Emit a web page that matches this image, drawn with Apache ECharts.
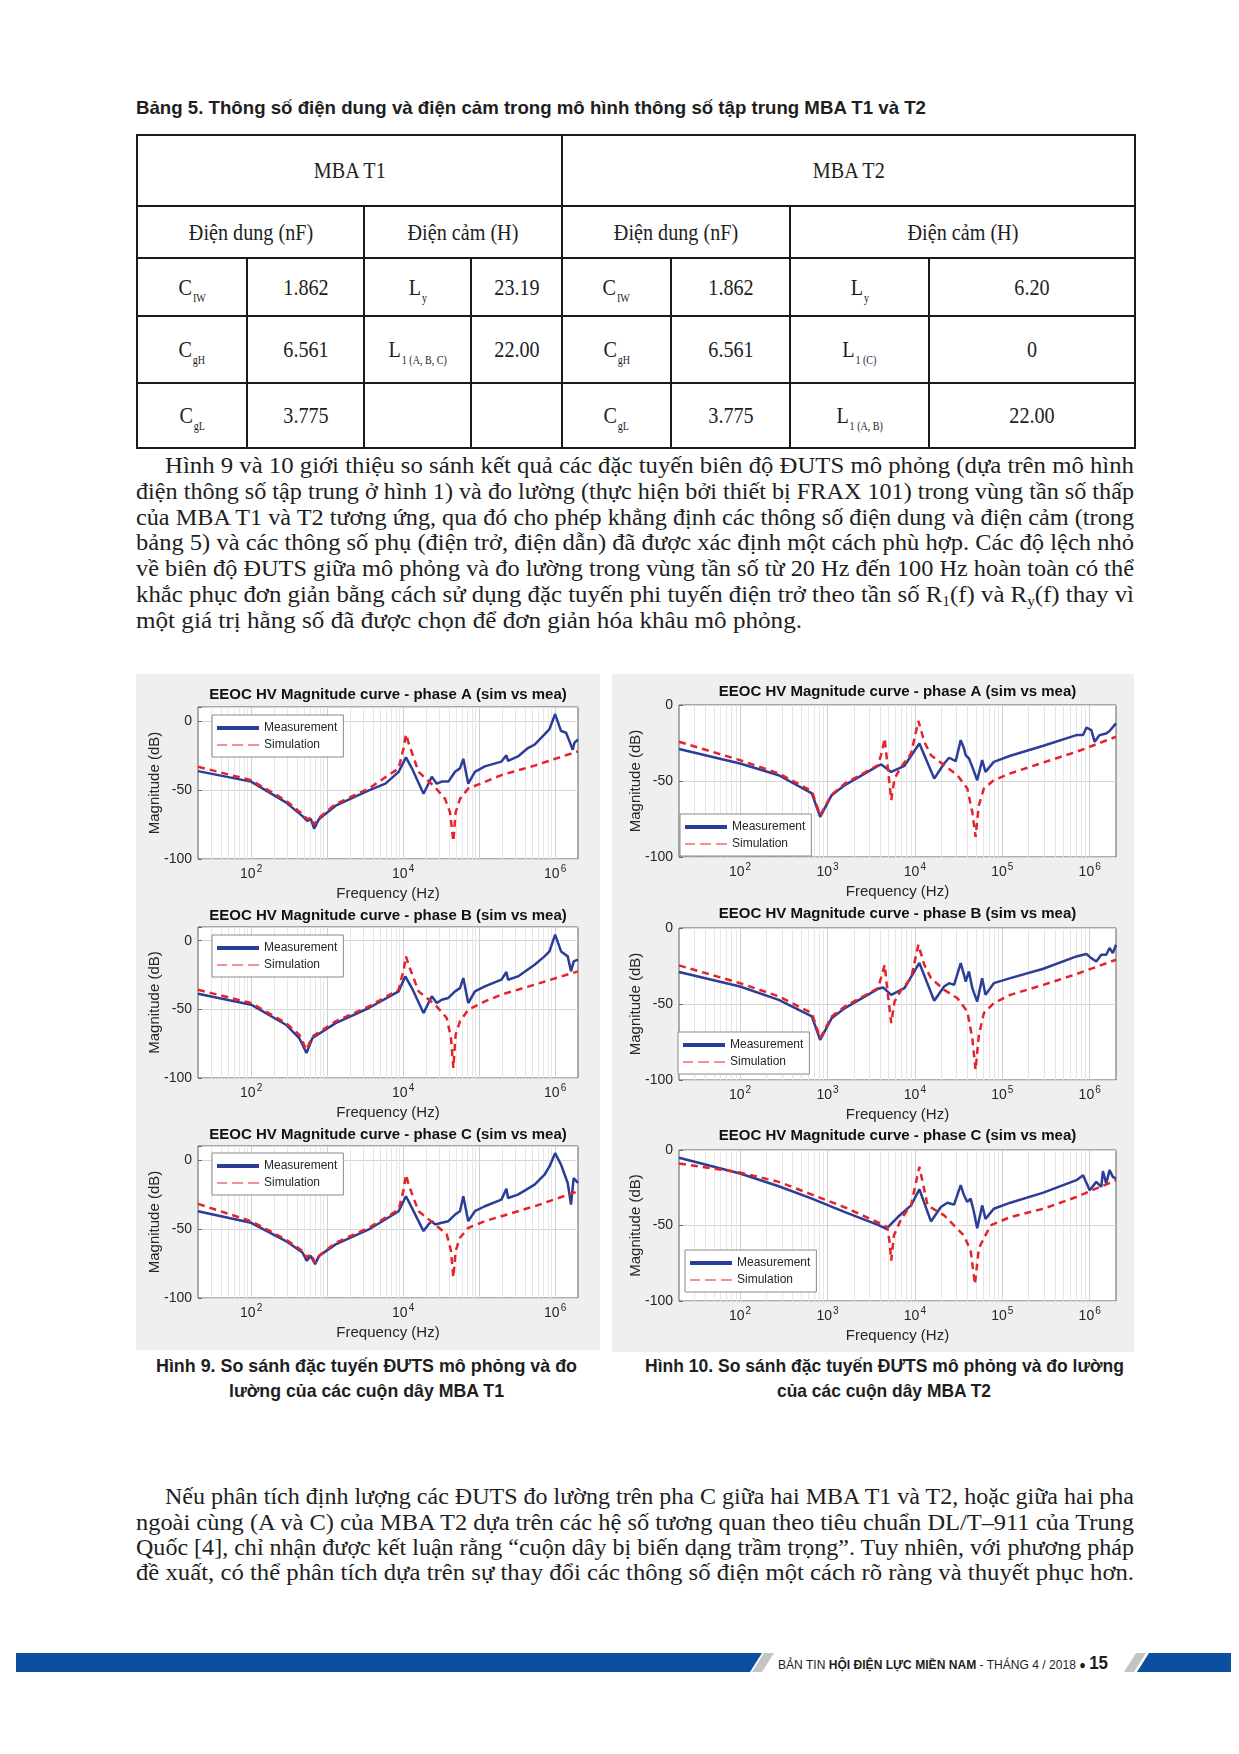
<!DOCTYPE html>
<html lang="vi">
<head>
<meta charset="utf-8">
<title>Bảng 5 – Hình 9, 10</title>
<script src="https://cdn.jsdelivr.net/npm/echarts@6.0.0/dist/echarts.min.js"></script>
<style>
html,body{margin:0;padding:0;background:#fff;overflow:hidden;}
#page{position:relative;width:1239px;height:1754px;overflow:hidden;background:#fff;color:#1e1e1e;}
.ln{position:absolute;white-space:nowrap;}
.ln>span{display:inline-block;transform-origin:0 50%;}
.serif{font-family:"Liberation Serif","DejaVu Serif",serif;}
.sans{font-family:"Liberation Sans",Arial,sans-serif;}
.sub{font-size:0.62em;position:relative;top:0.3em;}
table.t5{position:absolute;left:136px;top:134px;width:998px;height:313px;border-collapse:collapse;table-layout:fixed;font-family:"Liberation Serif",serif;font-size:24px;color:#1e1e1e;}
table.t5 td{border:2px solid #1a1a1a;text-align:center;vertical-align:middle;padding:0;}
table.t5 td>span{display:inline-block;transform:scaleX(0.84);white-space:nowrap;}
table.t5 .s{font-size:12px;position:relative;top:7px;margin-left:1px;}
.panel{position:absolute;}
.bar{position:absolute;}
</style>
</head>
<body>
<div id="page">
  <div id="fig9" class="panel" style="left:136px;top:674px;width:464px;height:676px"></div>
  <div id="fig10" class="panel" style="left:612px;top:674px;width:522px;height:678px"></div>
  <div class="bar" style="left:16px;top:1653px;width:746px;height:19px;background:#0c4f9f;clip-path:polygon(0 0,100% 0,calc(100% - 12px) 100%,0 100%)"></div>
  <div class="bar" style="left:752px;top:1653px;width:22px;height:19px;background:#c4c4c4;clip-path:polygon(12px 0,22px 0,10px 100%,0 100%)"></div>
  <div class="bar" style="left:1124px;top:1653px;width:22px;height:19px;background:#c4c4c4;clip-path:polygon(12px 0,22px 0,10px 100%,0 100%)"></div>
  <div class="bar" style="left:1137px;top:1653px;width:94px;height:19px;background:#0c4f9f;clip-path:polygon(12px 0,100% 0,100% 100%,0 100%)"></div>
</div>
<script>
// ---------------- DATA ----------------
const FREQ_MIN = 20, FREQ_MAX = 2000000;
const Y_TICKS = [-100, -50, 0];
const T1_XLABEL_EXP = [2, 4, 6];
const T2_XLABEL_EXP = [2, 3, 4, 5, 6];
const GRID_MULTS = [1, 2, 3, 4, 5, 6, 7, 8, 9];
const LEGEND_NAMES = ['Measurement', 'Simulation'];
const PLOT_TITLES = [
  'EEOC HV Magnitude curve - phase A (sim vs mea)',
  'EEOC HV Magnitude curve - phase B (sim vs mea)',
  'EEOC HV Magnitude curve - phase C (sim vs mea)'
];

// Figure 9 (MBA T1): [frequency Hz, magnitude dB]
const T1A_MEAS = [[20,-36.4],[100,-44],[287,-59],[474,-69],[552,-72.5],[610,-71],[675,-78],[784,-71],[1295,-61.4],[3540,-50.4],[5850,-45.5],[8730,-36.9],[10900,-26.5],[13050,-34.4],[18550,-52.8],[21570,-45.5],[23830,-40.5],[27720,-45.5],[32220,-44],[39380,-44],[48170,-36.9],[55970,-34.4],[61900,-27.5],[71960,-45.5],[87970,-36.9],[118900,-33],[196500,-29.5],[228500,-25],[240300,-29],[324600,-25.8],[438700,-19.7],[536800,-17.2],[725000,-9.8],[843000,-6],[1000000,4.9],[1198000,-7.4],[1393000,-8.6],[1542000,-14.7],[1703000,-20.9],[1790000,-16],[2000000,-13.5]];
const T1A_SIM = [[20,-33.2],[100,-43],[287,-57.7],[474,-67.6],[552,-71.3],[610,-70],[675,-75],[784,-70],[1295,-60.2],[3540,-49],[8730,-34.4],[10160,-19.7],[10900,-9.8],[11800,-16],[15960,-36.9],[26360,-48],[35650,-56.5],[41430,-66.3],[45790,-87.2],[49090,-66.3],[55970,-56.5],[71960,-49],[118900,-44.2],[196500,-39.3],[536800,-32.4],[2000000,-22.1]];
const T1B_MEAS = [[20,-38.6],[100,-46.6],[287,-61.2],[429,-70.9],[535,-81.8],[642,-70.9],[1295,-60],[3540,-49],[8730,-36.9],[10670,-26],[13050,-34.5],[18550,-52.7],[21570,-45.4],[23830,-40.5],[27720,-45.4],[32220,-43],[39380,-41.7],[48170,-36.9],[55970,-34.5],[61900,-27.2],[71960,-45.4],[87970,-36.9],[118900,-33.3],[196500,-28.4],[228500,-22.8],[240300,-28.4],[324600,-26],[536800,-17.5],[725000,-11.4],[843000,-7.8],[1000000,4.4],[1198000,-7.8],[1464000,-11.4],[1618000,-22.3],[1754000,-15],[2000000,-13.8]];
const T1B_SIM = [[20,-35.7],[100,-45.4],[287,-60],[429,-68.4],[535,-79.4],[642,-69.7],[1295,-58.7],[3540,-47.8],[8730,-35.7],[10160,-21.1],[10900,-11.4],[11800,-17.5],[15960,-36.9],[26360,-46.6],[37490,-56.3],[42670,-70.9],[45790,-92.7],[49090,-68.4],[55970,-58.7],[71960,-50.2],[118900,-44.2],[196500,-39.3],[536800,-32],[2000000,-22.3]];
const T1C_MEAS = [[20,-37.2],[100,-45.6],[287,-58.8],[474,-67.1],[540,-73.1],[610,-69.5],[695,-75.5],[784,-69.5],[1295,-61.2],[3540,-50.4],[8730,-37.2],[10900,-26.4],[13050,-34.8],[18550,-51.6],[21570,-46.8],[23830,-44.4],[26360,-46.8],[32220,-45.6],[39380,-44.4],[48170,-39.6],[55970,-37.2],[61900,-26.4],[71960,-44.4],[87970,-37.2],[118900,-33.6],[196500,-28.8],[228500,-21],[240300,-27.6],[324600,-25.2],[536800,-18],[725000,-10.8],[843000,-4.8],[1000000,4.8],[1198000,-3.6],[1464000,-16.8],[1618000,-32.4],[1754000,-13.2],[2000000,-16.8]];
const T1C_SIM = [[20,-31.9],[100,-44.4],[287,-57.6],[474,-66],[540,-70.7],[610,-68.3],[695,-74.3],[784,-69.5],[1295,-60],[3540,-49.2],[8730,-36],[10160,-21.6],[10900,-10.8],[11800,-18],[15960,-37.2],[26360,-46.8],[37490,-54],[42670,-66],[45790,-85.1],[49090,-66],[55970,-56.4],[71960,-49.2],[118900,-44.4],[196500,-40.8],[536800,-33.6],[2000000,-22.8]];

// Figure 10 (MBA T2)
const T2A_MEAS = [[20,-29],[100,-38.5],[277,-46.2],[663,-58.2],[824,-73.6],[1117,-59.3],[1583,-52.7],[3785,-40],[4129,-39.1],[5361,-44],[7595,-40],[11250,-25.3],[16640,-48.4],[21620,-38.5],[24640,-34.7],[29330,-36.9],[33430,-23.1],[36480,-28.6],[38100,-33],[41570,-35.2],[45370,-40.7],[51640,-49.5],[58880,-36.3],[64270,-44],[79960,-37.4],[123600,-33.4],[295200,-26.8],[705800,-19.8],[840000,-19.8],[916000,-14.9],[1044000,-16.5],[1140000,-24.2],[1299000,-19.8],[1546000,-18.7],[1687000,-17.1],[2000000,-12.1]];
const T2A_SIM = [[20,-24.2],[100,-36.3],[277,-45],[663,-56.7],[824,-72.5],[1117,-58.9],[1583,-51.6],[3785,-39.6],[4202,-30.8],[4505,-22],[4915,-41.8],[5361,-62.6],[5852,-48.4],[6966,-40.7],[9042,-31.9],[10960,-10.5],[12820,-24.2],[15270,-33],[21620,-39.6],[30640,-46.2],[39800,-55],[45370,-70.3],[49440,-86.8],[53970,-65.9],[61520,-55],[79960,-49.5],[123600,-45],[295200,-37.8],[705800,-30.8],[2000000,-20.9]];
const T2B_MEAS = [[20,-29],[100,-38.5],[277,-47.3],[663,-58.2],[824,-73.6],[1117,-59.3],[1583,-52.7],[3785,-40],[4313,-39.1],[5361,-44],[7595,-39.6],[11250,-23],[16640,-47.9],[21620,-38.5],[24640,-36.3],[28080,-37.4],[33430,-23.1],[36480,-30.8],[38100,-35.2],[41570,-28.6],[45370,-39.6],[51640,-48.4],[58880,-33],[64270,-44],[79960,-36.3],[123600,-33],[295200,-26.8],[705800,-18.7],[916000,-17.1],[1044000,-19.8],[1190000,-22],[1357000,-17.6],[1546000,-17.6],[1687000,-13.2],[1841000,-16.5],[2000000,-11]];
const T2B_SIM = [[20,-24.6],[100,-36.3],[277,-45],[663,-56],[824,-72.5],[1117,-58.2],[1583,-51.6],[3785,-39.6],[4202,-30.8],[4505,-24.2],[4915,-44],[5361,-62.6],[5852,-48.4],[6966,-40.7],[9042,-33],[10960,-11],[12820,-24.2],[15270,-33],[21620,-40.7],[30640,-46.2],[39800,-55],[45370,-72.5],[49440,-93.4],[53970,-70.3],[61520,-56],[79960,-49.5],[123600,-44],[295200,-37.4],[705800,-30.3],[2000000,-20.9]];
const T2C_MEAS = [[20,-5.1],[100,-15.6],[277,-24],[663,-32.2],[1583,-41.1],[3785,-49.6],[4708,-52.2],[6380,-44.4],[9042,-36.7],[11250,-26],[15270,-47.3],[19820,-37.8],[23600,-34.9],[28080,-36.2],[33430,-23.3],[36480,-30],[39800,-34.4],[43430,-32.2],[47370,-41.1],[51640,-51.8],[58880,-36.7],[64270,-45.6],[79960,-38.9],[123600,-34.9],[295200,-28.2],[705800,-20],[840000,-16.7],[1000000,-26.7],[1190000,-21.1],[1357000,-24.4],[1417000,-14],[1546000,-22.2],[1687000,-13.3],[1841000,-17.8],[2000000,-18.9]];
const T2C_SIM = [[20,-8.9],[100,-14.9],[277,-21.1],[663,-29.5],[1583,-38],[3785,-48],[4831,-51.1],[5135,-61.1],[5361,-73.3],[5750,-56.7],[6966,-45.6],[9042,-36.7],[11250,-11.1],[13990,-36.7],[21620,-43.3],[36480,-56.7],[43430,-66.7],[48640,-88.9],[53970,-65],[73260,-50],[123600,-44.4],[295200,-38.9],[705800,-31.1],[2000000,-20]];

// Table 5 values
const TABLE_HEAD = ['MBA T1', 'MBA T2'];
const TABLE_SUBHEAD = ['Điện dung (nF)', 'Điện cảm (H)', 'Điện dung (nF)', 'Điện cảm (H)'];
const T1_CAP_NAMES = [['C','IW'],['C','gH'],['C','gL']];
const T1_CAP_VALUES = ['1.862', '6.561', '3.775'];
const T1_IND_NAMES = [['L','y'],['L','1 (A, B, C)'],null];
const T1_IND_VALUES = ['23.19', '22.00', ''];
const T2_CAP_NAMES = [['C','IW'],['C','gH'],['C','gL']];
const T2_CAP_VALUES = ['1.862', '6.561', '3.775'];
const T2_IND_NAMES = [['L','y'],['L','1 (C)'],['L','1 (A, B)']];
const T2_IND_VALUES = ['6.20', '0', '22.00'];

// Texts
const TABLE_TITLE = 'Bảng 5. Thông số điện dung và điện cảm trong mô hình thông số tập trung MBA T1 và T2';
const PARA1 = [
  'Hình 9 và 10 giới thiệu so sánh kết quả các đặc tuyến biên độ ĐUTS mô phỏng (dựa trên mô hình',
  'điện thông số tập trung ở hình 1) và đo lường (thực hiện bởi thiết bị FRAX 101) trong vùng tần số thấp',
  'của MBA T1 và T2 tương ứng, qua đó cho phép khẳng định các thông số điện dung và điện cảm (trong',
  'bảng 5) và các thông số phụ (điện trở, điện dẫn) đã được xác định một cách phù hợp. Các độ lệch nhỏ',
  'về biên độ ĐUTS giữa mô phỏng và đo lường trong vùng tần số từ 20 Hz đến 100 Hz hoàn toàn có thể',
  'khắc phục đơn giản bằng cách sử dụng đặc tuyến phi tuyến điện trở theo tần số R<span class="sub">1</span>(f) và R<span class="sub">y</span>(f) thay vì',
  'một giá trị hằng số đã được chọn để đơn giản hóa khâu mô phỏng.'
];
const PARA2 = [
  'Nếu phân tích định lượng các ĐUTS đo lường trên pha C giữa hai MBA T1 và T2, hoặc giữa hai pha',
  'ngoài cùng (A và C) của MBA T2 dựa trên các hệ số tương quan theo tiêu chuẩn DL/T–911 của Trung',
  'Quốc [4], chỉ nhận được kết luận rằng “cuộn dây bị biến dạng trầm trọng”. Tuy nhiên, với phương pháp',
  'đề xuất, có thể phân tích dựa trên sự thay đổi các thông số điện một cách rõ ràng và thuyết phục hơn.'
];
const CAPTION9 = ['Hình 9. So sánh đặc tuyến ĐƯTS mô phỏng và đo', 'lường của các cuộn dây MBA T1'];
const CAPTION10 = ['Hình 10. So sánh đặc tuyến ĐƯTS mô phỏng và đo lường', 'của các cuộn dây MBA T2'];
const FOOTER = 'BẢN TIN <b>HỘI ĐIỆN LỰC MIỀN NAM</b> - THÁNG 4 / 2018 <span style="font-size:0.9em">●</span> <b style="font-size:1.4em">15</b>';

// ---------------- PAGE TEXT ----------------
const page = document.getElementById('page');
function addLine(html, x, cy, w, cls, fs, weight) {
  const d = document.createElement('div');
  d.className = 'ln ' + cls;
  d.style.left = x + 'px';
  d.style.top = (cy - fs * 0.6) + 'px';
  d.style.fontSize = fs + 'px';
  d.style.lineHeight = (fs * 1.2) + 'px';
  d.style.height = (fs * 1.2) + 'px';
  if (weight) d.style.fontWeight = weight;
  const s = document.createElement('span');
  s.innerHTML = html;
  d.appendChild(s);
  page.appendChild(d);
  const nw = s.getBoundingClientRect().width;
  if (nw > 0) s.style.transform = 'scaleX(' + (w / nw) + ')';
}
function addCentered(html, cx, cy, w, cls, fs, weight) { addLine(html, cx - w / 2, cy, w, cls, fs, weight); }

addLine(TABLE_TITLE, 136, 108, 790, 'sans', 19, 'bold');

const P1_Y = [466, 492, 518, 543, 569, 595, 621];
PARA1.forEach((t, i) => {
  const x = i === 0 ? 165 : 136;
  const w = i === PARA1.length - 1 ? 666 : 1134 - x;
  addLine(t, x, P1_Y[i], w, 'serif', 23);
});
const P2_Y = [1497, 1523, 1548, 1573];
PARA2.forEach((t, i) => {
  const x = i === 0 ? 165 : 136;
  addLine(t, x, P2_Y[i], 1134 - x, 'serif', 23);
});
addCentered(CAPTION9[0], 366, 1366, 421, 'sans', 18.5, 'bold');
addCentered(CAPTION9[1], 366, 1391, 275, 'sans', 18.5, 'bold');
addCentered(CAPTION10[0], 884, 1366, 479, 'sans', 18.5, 'bold');
addCentered(CAPTION10[1], 884, 1391, 214, 'sans', 18.5, 'bold');
addLine(FOOTER, 778, 1663, 330, 'sans', 13.5);

// ---------------- TABLE ----------------
(function buildTable() {
  const colW = [110, 117, 107, 91, 109, 119, 139, 206];
  const rowH = [71, 52, 58, 67, 65];
  const sym = n => n ? '<span>' + n[0] + '<span class="s">' + n[1] + '</span></span>' : '';
  const val = v => '<span>' + v + '</span>';
  let h = '<colgroup>' + colW.map(w => '<col style="width:' + w + 'px">').join('') + '</colgroup>';
  h += '<tr style="height:' + rowH[0] + 'px"><td colspan="4">' + val(TABLE_HEAD[0]) + '</td><td colspan="4">' + val(TABLE_HEAD[1]) + '</td></tr>';
  h += '<tr style="height:' + rowH[1] + 'px">' + TABLE_SUBHEAD.map(t => '<td colspan="2">' + val(t) + '</td>').join('') + '</tr>';
  for (let r = 0; r < 3; r++) {
    h += '<tr style="height:' + rowH[r + 2] + 'px">' +
      '<td>' + sym(T1_CAP_NAMES[r]) + '</td><td>' + val(T1_CAP_VALUES[r]) + '</td>' +
      '<td>' + sym(T1_IND_NAMES[r]) + '</td><td>' + val(T1_IND_VALUES[r]) + '</td>' +
      '<td>' + sym(T2_CAP_NAMES[r]) + '</td><td>' + val(T2_CAP_VALUES[r]) + '</td>' +
      '<td>' + sym(T2_IND_NAMES[r]) + '</td><td>' + val(T2_IND_VALUES[r]) + '</td></tr>';
  }
  const t = document.createElement('table');
  t.className = 't5';
  t.innerHTML = h;
  page.appendChild(t);
})();

// ---------------- CHARTS ----------------
const FF = '"Liberation Sans", Arial, Helvetica, sans-serif';
const BLUE = '#2c3d97', RED = '#e5232b';
const ICON_SOLID = 'rect';
const ICON_DASH = 'path://M0,0H10V1H0Z M15,0H26V1H15Z M31,0H42V1H31Z';

function xLabelFmt(exps) {
  return function (v) {
    const e = Math.log10(v), r = Math.round(e);
    if (Math.abs(e - r) < 1e-6 && exps.indexOf(r) >= 0) return '{b|10}{s|' + r + '}';
    return '';
  };
}
function gridLineValues() {
  const out = [];
  for (let e = 1; e <= 6; e++) {
    GRID_MULTS.forEach(m => {
      const v = m * Math.pow(10, e);
      if (v > FREQ_MIN && v < FREQ_MAX) out.push({ v: v, major: m === 1 });
    });
  }
  return out;
}

function buildPanel(P) {
  const chart = echarts.init(document.getElementById(P.dom), null, { renderer: 'canvas' });
  const o = { animation: false, backgroundColor: '#efefef', textStyle: { fontFamily: FF },
    grid: [], xAxis: [], yAxis: [], series: [], legend: [], graphic: { elements: [] } };
  const gl = gridLineValues();
  P.plots.forEach((p, i) => {
    o.grid.push({ left: P.left, top: p.top, width: P.width, height: p.height, show: true,
      backgroundColor: '#ffffff', borderColor: '#5f5f5f', borderWidth: 1, containLabel: false, outerBoundsMode: 'none' });
    o.xAxis.push({ type: 'log', logBase: 10, gridIndex: i, min: FREQ_MIN, max: FREQ_MAX,
      name: 'Frequency (Hz)', nameLocation: 'middle', nameGap: 27, nameMoveOverlap: false,
      nameTextStyle: { fontSize: 15, color: '#262626', fontFamily: FF },
      axisLine: { show: false }, axisTick: { show: false }, splitLine: { show: false },
      axisLabel: { margin: 5, formatter: xLabelFmt(P.xExps),
        rich: { b: { fontSize: 14, color: '#262626', fontFamily: FF, verticalAlign: 'bottom', lineHeight: 16 },
                s: { fontSize: 10, color: '#262626', fontFamily: FF, verticalAlign: 'bottom', padding: [0, 0, 7, 1] } } } });
    o.yAxis.push({ type: 'value', gridIndex: i, min: -100, max: P.ymax, interval: 50,
      name: 'Magnitude (dB)', nameLocation: 'middle', nameGap: P.nameGapY, nameMoveOverlap: false,
      nameTextStyle: { fontSize: 15, color: '#262626', fontFamily: FF },
      axisLine: { show: false },
      axisTick: { show: true, inside: true, length: 4, lineStyle: { color: '#666' } },
      splitLine: { show: true, lineStyle: { color: '#d6d6d6', width: 1 } },
      axisLabel: { margin: 6, fontSize: 14, color: '#262626', fontFamily: FF,
        formatter: v => (Y_TICKS.indexOf(v) >= 0 ? String(v) : '') } });
    o.series.push({ type: 'line', xAxisIndex: i, yAxisIndex: i, data: [], silent: true, z: 1,
      markLine: { z: 1, silent: true, animation: false, symbol: ['none', 'none'], label: { show: false },
        emphasis: { disabled: true },
        data: gl.map(g => ({ xAxis: g.v, lineStyle: { color: g.major ? '#d0d0d0' : '#e6e6e6', width: 1, type: 'solid' } })) } });
    o.series.push({ name: LEGEND_NAMES[0], type: 'line', xAxisIndex: i, yAxisIndex: i, data: p.meas,
      symbol: 'none', showSymbol: false, z: 3, emphasis: { disabled: true },
      lineStyle: { color: BLUE, width: 2.5 }, itemStyle: { color: BLUE } });
    o.series.push({ name: LEGEND_NAMES[1], type: 'line', xAxisIndex: i, yAxisIndex: i, data: p.sim,
      symbol: 'none', showSymbol: false, z: 4, emphasis: { disabled: true },
      lineStyle: { color: RED, width: 2.5, type: [7, 5] }, itemStyle: { color: RED } });
    o.legend.push({ show: true, orient: 'vertical', left: p.legend[0], top: p.legend[1],
      data: [{ name: LEGEND_NAMES[0], icon: ICON_SOLID }, { name: LEGEND_NAMES[1], icon: ICON_DASH }],
      selectedMode: false, backgroundColor: '#ffffff', borderColor: '#8a8a8a', borderWidth: 1,
      padding: [6, 6, 5, 5], itemGap: 3, itemWidth: 42, itemHeight: 4,
      itemStyle: { opacity: 1 },
      textStyle: { fontSize: 12, color: '#262626', fontFamily: FF, lineHeight: 14 } });
    o.graphic.elements.push({ type: 'text', x: P.left + P.width / 2, y: p.titleY, silent: true,
      style: { text: p.title, font: 'bold 15px ' + FF, fill: '#111', textAlign: 'center', textVerticalAlign: 'middle' } });
  });
  chart.setOption(o);
}

buildPanel({ dom: 'fig9', left: 62, width: 380, ymax: 10, xExps: T1_XLABEL_EXP, nameGapY: 36, plots: [
  { title: PLOT_TITLES[0], top: 33, height: 152, titleY: 21, legend: [76, 41], meas: T1A_MEAS, sim: T1A_SIM },
  { title: PLOT_TITLES[1], top: 253, height: 151, titleY: 242, legend: [76, 261], meas: T1B_MEAS, sim: T1B_SIM },
  { title: PLOT_TITLES[2], top: 472, height: 152, titleY: 461, legend: [76, 479], meas: T1C_MEAS, sim: T1C_SIM }
]});
buildPanel({ dom: 'fig10', left: 67, width: 437, ymax: 0, xExps: T2_XLABEL_EXP, nameGapY: 36, plots: [
  { title: PLOT_TITLES[0], top: 31, height: 152, titleY: 18, legend: [68, 140], meas: T2A_MEAS, sim: T2A_SIM },
  { title: PLOT_TITLES[1], top: 254, height: 152, titleY: 240, legend: [66, 358], meas: T2B_MEAS, sim: T2B_SIM },
  { title: PLOT_TITLES[2], top: 476, height: 151, titleY: 462, legend: [73, 576], meas: T2C_MEAS, sim: T2C_SIM }
]});
</script>
</body>
</html>
